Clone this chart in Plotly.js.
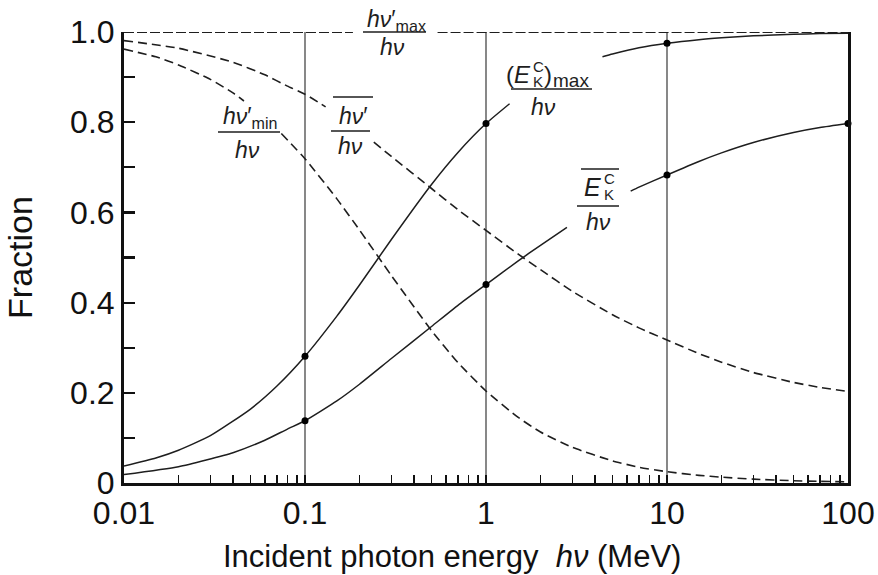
<!DOCTYPE html>
<html>
<head>
<meta charset="utf-8">
<script src="https://cdn.plot.ly/plotly-3.0.1.min.js"></script>
<style>html,body{margin:0;padding:0;background:#fff;}#chart{width:878px;height:575px;}</style>
</head>
<body>
<div id="chart"></div>
<script>
// ---- data ----
// hν'max/hν (upper limit, dashed along 1.0, broken where its label sits)
const hvMaxX = [0.01, 0.184, null, 0.54, 100];
const hvMaxY = [1.0, 1.0, null, 1.0, 1.0];

// hν'min/hν (dashed)
const hvMinX = [0.01, 0.015, 0.02, 0.03, 0.04, 0.046, null, 0.074, 0.1, 0.15, 0.2, 0.3, 0.5, 0.7, 1, 1.5, 2, 3, 5, 7, 10, 15, 20, 30, 50, 70, 100];
const hvMinY = [0.962, 0.945, 0.927, 0.895, 0.865, 0.847, null, 0.775, 0.719, 0.630, 0.561, 0.460, 0.338, 0.267, 0.204, 0.146, 0.113, 0.079, 0.049, 0.035, 0.025, 0.017, 0.013, 0.0085, 0.0051, 0.0036, 0.0026];

// mean hν'/hν (dashed)
const hvMeanX = [0.01, 0.02, 0.04, 0.06, 0.08, 0.1, 0.13, null, 0.24, 0.3, 0.5, 0.7, 1, 1.5, 2, 3, 5, 7, 10, 15, 20, 30, 50, 70, 100];
const hvMeanY = [0.981, 0.964, 0.933, 0.905, 0.880, 0.862, 0.834, null, 0.756, 0.724, 0.653, 0.606, 0.560, 0.508, 0.473, 0.425, 0.373, 0.344, 0.317, 0.287, 0.268, 0.245, 0.223, 0.212, 0.203];

// (E_K^C)max/hν (solid)
const ekMaxX = [0.01, 0.015, 0.02, 0.03, 0.05, 0.07, 0.1, 0.15, 0.2, 0.3, 0.5, 0.7, 1, 1.35, null, 4.4, 5, 7, 10, 15, 20, 30, 50, 70, 100];
const ekMaxY = [0.0377, 0.0554, 0.0726, 0.105, 0.164, 0.215, 0.281, 0.370, 0.439, 0.540, 0.662, 0.733, 0.797, 0.841, null, 0.945, 0.951, 0.965, 0.975, 0.983, 0.987, 0.9915, 0.995, 0.9964, 0.9974];

// mean E_K^C/hν (solid)
const ekMeanX = [0.01, 0.02, 0.04, 0.06, 0.08, 0.1, 0.15, 0.2, 0.3, 0.5, 0.7, 1, 1.5, 2, 2.8, null, 6.3, 7, 10, 15, 20, 30, 50, 70, 100];
const ekMeanY = [0.0187, 0.0361, 0.0672, 0.0948, 0.1196, 0.138, 0.182, 0.219, 0.276, 0.347, 0.394, 0.440, 0.492, 0.527, 0.567, null, 0.647, 0.656, 0.683, 0.713, 0.732, 0.755, 0.777, 0.788, 0.797];

// energies marked by vertical lines and dots
const refX = [0.1, 1, 10];
const ekMaxDotX = [0.1, 1, 10];
const ekMeanDotX = [0.1, 1, 10, 100];

// tick labels
const xTickVals = [0.01, 0.1, 1, 10, 100];
const xTickText = ['0.01', '0.1', '1', '10', '100'];
const xMinorVals = [0.02,0.03,0.04,0.05,0.06,0.07,0.08,0.09, 0.2,0.3,0.4,0.5,0.6,0.7,0.8,0.9, 2,3,4,5,6,7,8,9, 20,30,40,50,60,70,80,90];
const yTickVals = [0, 0.2, 0.4, 0.6, 0.8, 1.0];
const yTickText = ['0', '0.2', '0.4', '0.6', '0.8', '1.0'];
const yMinorVals = [0.1, 0.3, 0.5, 0.7, 0.9];

// ---- drawing ----
const INK = '#1e1e1e';
const DASH = '9px,5px';
function lookup(xs, ys, x) { return ys[xs.indexOf(x)]; }

const vx = [], vy = [];
refX.forEach(v => { vx.push(v, v, null); vy.push(0, 1, null); });

const traces = [
  {x: vx, y: vy, mode: 'lines', line: {color: '#555', width: 1.4}, hoverinfo: 'skip', cliponaxis: false},
  {x: hvMaxX, y: hvMaxY, mode: 'lines', line: {color: INK, width: 1.8, dash: '10px,3px'}, cliponaxis: false, connectgaps: false},
  {x: hvMinX, y: hvMinY, mode: 'lines', line: {color: INK, width: 1.6, dash: DASH, shape: 'spline', smoothing: 0.5}, connectgaps: false, cliponaxis: false},
  {x: hvMeanX, y: hvMeanY, mode: 'lines', line: {color: INK, width: 1.6, dash: DASH, shape: 'spline', smoothing: 0.5}, connectgaps: false, cliponaxis: false},
  {x: ekMaxX, y: ekMaxY, mode: 'lines', line: {color: INK, width: 1.5, shape: 'spline', smoothing: 0.5}, connectgaps: false, cliponaxis: false},
  {x: ekMeanX, y: ekMeanY, mode: 'lines', line: {color: INK, width: 1.5, shape: 'spline', smoothing: 0.5}, connectgaps: false, cliponaxis: false},
  {x: ekMaxDotX, y: ekMaxDotX.map(v => lookup(ekMaxX, ekMaxY, v)), mode: 'markers', marker: {color: '#000', size: 7}, cliponaxis: false},
  {x: ekMeanDotX, y: ekMeanDotX.map(v => lookup(ekMeanX, ekMeanY, v)), mode: 'markers', marker: {color: '#000', size: 7}, cliponaxis: false}
];

// pixel -> paper helpers for label placement (plot area 124..848 x 32..483)
const L = 124, R = 848, T = 32, B = 483;
const px = p => (p - L) / (R - L);
const py = p => (B - p) / (B - T);

const FONT = 'Liberation Sans, Arial, Helvetica, sans-serif';
function ann(text, x, y, size, xanchor) {
  return {text: text, xref: 'paper', yref: 'paper', x: px(x), y: py(y), xanchor: xanchor || 'center', yanchor: 'middle',
          showarrow: false, font: {family: FONT, size: size, color: INK}};
}
function bar(x0, x1, y) {
  return {type: 'line', xref: 'paper', yref: 'paper', x0: px(x0), x1: px(x1), y0: py(y), y1: py(y), line: {color: INK, width: 1.6}};
}
const HV = '<i>hν</i>';
const annotations = [
  // hν'max / hν
  ann(HV + '′<sub>max</sub>', 396, 20, 23),
  ann(HV, 392, 47, 23),
  // hν'min / hν
  ann(HV + '′<sub>min</sub>', 250, 117, 23),
  ann(HV, 247, 150, 23),
  // mean hν' / hν
  ann(HV + '′', 353, 116, 23),
  ann(HV, 350, 146, 23),
  // (E_K^C)max / hν
  ann('(<i>E</i>', 533, 74, 24, 'right'),
  ann('C', 531, 66, 15, 'left'),
  ann('K', 531, 81, 15, 'left'),
  ann(')', 542, 74, 24, 'left'),
  ann('max', 551, 80, 19, 'left'),
  ann(HV, 543, 107, 23),
  // mean E_K^C / hν
  ann('<i>E</i>', 603, 187, 25, 'right'),
  ann('C', 602, 178, 15, 'left'),
  ann('K', 602, 194, 15, 'left'),
  ann(HV, 598, 222, 23),
  // x axis title
  {text: 'Incident photon energy  <i>hν</i> (MeV)', xref: 'paper', yref: 'paper', x: px(452), y: py(556), xanchor: 'center', yanchor: 'middle',
   showarrow: false, font: {family: FONT, size: 31, color: '#111'}}
];
const shapes = [
  bar(363, 426, 32),
  bar(218, 280, 132),
  bar(333, 373, 97), bar(331, 370, 131),
  bar(511, 592, 89),
  bar(581, 619, 169), bar(577, 619, 206)
];

const layout = {
  width: 878, height: 575,
  margin: {l: L, r: 878 - R, t: T, b: 575 - B},
  paper_bgcolor: '#fff', plot_bgcolor: '#fff',
  showlegend: false,
  font: {family: FONT, color: '#111'},
  xaxis: {
    type: 'log', range: [-2, 2], autorange: false,
    showline: true, linewidth: 3, linecolor: '#111', mirror: false,
    showgrid: false, zeroline: false,
    ticks: 'inside', ticklen: 8, tickwidth: 2, tickcolor: '#111',
    tickvals: xTickVals, ticktext: xTickText,
    tickfont: {family: FONT, size: 32, color: '#111'},
    minor: {tickvals: xMinorVals, ticks: 'inside', ticklen: 8, tickwidth: 1.6, tickcolor: '#111', showgrid: false},
    automargin: false
  },
  yaxis: {
    range: [0, 1], autorange: false,
    showline: true, linewidth: 3, linecolor: '#111', mirror: true,
    showgrid: false, zeroline: false,
    ticks: 'inside', ticklen: 11, tickwidth: 2.2, tickcolor: '#111',
    tickvals: yTickVals, ticktext: yTickText,
    tickfont: {family: FONT, size: 32, color: '#111'},
    minor: {tickvals: yMinorVals, ticks: 'inside', ticklen: 11, tickwidth: 2.2, tickcolor: '#111', showgrid: false},
    title: {text: 'Fraction', font: {family: FONT, size: 34, color: '#111'}, standoff: 28},
    automargin: false
  },
  annotations: annotations,
  shapes: shapes
};

Plotly.newPlot('chart', traces, layout, {displayModeBar: false, staticPlot: true});
</script>
</body>
</html>
